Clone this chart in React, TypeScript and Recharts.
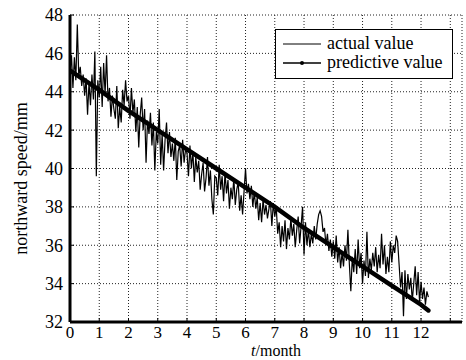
import { CartesianGrid, Legend, Line, LineChart, XAxis, YAxis } from 'recharts';

// one sample every 0.05 month, starting at t = 0
const SAMPLE_STEP = 0.05;

// northward speed readings (mm), one row per month
const actualValues: number[] = [
  45.0, 45.9, 44.2, 45.8, 44.6, 47.5, 44.8, 45.3, 44.3, 44.9, 43.8, 44.7, 42.8, 44.5, 43.3, 44.9, 43.6, 46.1, 39.6, 44.6,
  43.7, 45.3, 43.2, 45.5, 43.9, 45.9, 43.5, 44.2, 42.7, 43.8, 43.1, 42.6, 44.3, 42.1, 43.2, 42.4, 44.1, 43.3, 44.6, 43.5,
  43.8, 42.6, 44.2, 42.9, 43.6, 41.9, 43.2, 41.1, 42.8, 43.7, 42.0, 43.1, 40.3, 42.5, 41.8, 42.9, 41.2, 42.4, 39.9, 41.9,
  41.3, 43.1, 40.2, 41.8, 39.9, 41.5, 42.4, 40.8, 41.9, 40.6, 41.3, 40.4, 41.6, 39.4, 40.9, 41.2, 40.1, 41.5, 40.3, 41.0,
  40.8, 39.6, 41.2, 40.0, 40.9, 39.3, 40.6, 39.8, 40.4, 38.9, 39.7, 40.3, 38.8, 39.5, 40.6, 39.1, 39.9, 38.4, 37.6, 39.6,
  39.5, 38.6, 40.2, 38.9, 39.6, 38.3, 39.8, 38.7, 39.4, 37.9, 39.0, 38.4, 39.5, 38.1, 38.9, 39.3, 37.8, 38.6, 37.6, 38.8,
  40.0, 38.7, 39.2, 38.4, 39.1, 38.0, 38.8, 37.9, 38.5, 37.3, 38.2, 37.2, 38.4, 37.6, 38.1, 37.4, 37.9, 38.3, 37.0, 38.2,
  37.5, 38.0, 36.6, 37.2, 35.9, 37.0, 36.2, 37.3, 35.8, 36.9, 36.3, 37.4, 36.5, 37.1, 35.9, 36.8, 37.5, 36.1, 37.0, 38.0,
  35.5, 37.2, 36.0, 36.8, 35.9, 36.6, 36.1, 37.0, 36.3, 37.1, 37.6, 37.8, 37.5, 36.7, 36.9, 36.0, 36.6, 35.7, 36.3, 35.4,
  36.2, 35.3, 36.5, 35.1, 35.9, 34.8, 35.6, 34.9, 36.0, 35.2, 36.8, 35.0, 33.6, 35.4, 34.6, 35.8, 34.5, 36.3, 34.8, 35.6,
  34.0, 35.2, 34.4, 36.7, 34.3, 35.3, 34.7, 35.6, 34.9, 35.9, 34.6, 35.5, 34.8, 36.6, 35.0, 36.0, 34.5, 35.4, 34.6, 36.2,
  35.1, 36.0, 35.6, 36.5, 36.2, 35.0, 33.8, 34.6, 32.3, 34.7, 33.2, 34.5, 33.7, 34.3, 33.1, 34.0, 34.9, 33.4, 34.6, 33.0,
  34.1, 33.2, 33.8, 32.9, 33.6, 33.3,
];

const predictMonths = [0, 1, 2, 3, 4, 5, 6, 7, 8, 9, 10, 11, 12, 12.25];
const predictValues = [45.1, 44.1, 43.0, 42.0, 41.0, 40.0, 39.0, 38.0, 36.9, 35.9, 34.9, 33.9, 32.9, 32.6];

const xTicks = [0, 1, 2, 3, 4, 5, 6, 7, 8, 9, 10, 11, 12, 13];
const xTickLabels = ['0', '1', '2', '3', '4', '5', '6', '7', '8', '9', '10', '11', '12', ''];
const yTicks = [32, 34, 36, 38, 40, 42, 44, 46, 48];
const seriesNames = ['actual value', 'predictive value'];

const X_DOMAIN: [number, number] = [0, 13.4];
const Y_DOMAIN: [number, number] = [32, 48];
const FONT = '"Liberation Serif", "Times New Roman", serif';

const actualData = actualValues.map((v, i) => ({ t: i * SAMPLE_STEP, v }));
const predictData = predictMonths.map((t, i) => ({ t, v: predictValues[i] }));

function YLabel({ viewBox }: any) {
  const x = viewBox.x + 27;
  const y = viewBox.y + viewBox.height / 2 + 10;
  return (
    <text x={x} y={y} transform={`rotate(-90, ${x}, ${y})`} textAnchor="middle" fontFamily={FONT} fontSize={18} fill="#000">
      northward speed/mm
    </text>
  );
}

function XLabel({ viewBox }: any) {
  // keep the label just under the tick numbers, inside the picture
  const x = viewBox.x + viewBox.width / 2 + 10;
  const y = viewBox.y + 34.3;
  return (
    <text x={x} y={y} textAnchor="middle" fontFamily={FONT} fontSize={16} fill="#000">
      <tspan fontStyle="italic">t</tspan>
      <tspan>/month</tspan>
    </text>
  );
}

function LegendBox() {
  return (
    <div
      style={{
        boxSizing: 'border-box',
        width: 178,
        height: 50,
        border: '1px solid #000',
        background: '#fff',
        padding: '4px 0 0 7px',
        fontFamily: FONT,
        fontSize: 18,
        color: '#000',
        lineHeight: '19px',
      }}
    >
      {seriesNames.map((name, i) => (
        <div key={name} style={{ display: 'flex', alignItems: 'center', height: 19 }}>
          <svg width={38} height={10} style={{ display: 'block' }}>
            <line x1={0} y1={5} x2={38} y2={5} stroke="#000" strokeWidth={i === 0 ? 1 : 1.5} />
            {i === 1 ? <circle cx={19} cy={5} r={2} fill="#000" /> : null}
          </svg>
          <span style={{ marginLeft: 6, whiteSpace: 'nowrap' }}>{name}</span>
        </div>
      ))}
    </div>
  );
}

export default function App() {
  const yTickStyle = { fill: '#000', fontSize: 18, fontFamily: FONT };
  const xTickStyle = { fill: '#000', fontSize: 17, fontFamily: FONT };
  return (
    <div style={{ position: 'absolute', left: 0, top: 0, width: 466, height: 360, background: '#fff' }}>
      <LineChart width={466} height={360} margin={{ top: 15, right: 4, bottom: 0, left: 0 }}>
        <CartesianGrid stroke="#222" strokeDasharray="1 2" strokeWidth={1} />
        <XAxis
          dataKey="t"
          type="number"
          domain={X_DOMAIN}
          ticks={xTicks}
          tickFormatter={(v: number) => xTickLabels[xTicks.indexOf(v)] ?? ''}
          allowDataOverflow
          interval={0}
          height={38}
          tick={xTickStyle}
          tickSize={-4}
          tickMargin={8}
          tickLine={{ stroke: '#000' }}
          axisLine={{ stroke: '#000', strokeWidth: 3 }}
          label={{ content: (p: any) => <XLabel {...p} /> }}
        />
        <XAxis
          xAxisId="top"
          orientation="top"
          type="number"
          domain={X_DOMAIN}
          ticks={xTicks}
          allowDataOverflow
          height={0}
          tick={false}
          tickSize={-4}
          tickLine={{ stroke: '#000' }}
          axisLine={{ stroke: '#000', strokeWidth: 1 }}
        />
        <YAxis
          type="number"
          domain={Y_DOMAIN}
          ticks={yTicks}
          allowDataOverflow
          interval={0}
          width={70}
          tick={yTickStyle}
          tickSize={-4}
          tickMargin={11}
          tickLine={{ stroke: '#000' }}
          axisLine={{ stroke: '#000', strokeWidth: 3 }}
          label={{ content: (p: any) => <YLabel {...p} /> }}
        />
        <YAxis
          yAxisId="right"
          orientation="right"
          type="number"
          domain={Y_DOMAIN}
          ticks={yTicks}
          allowDataOverflow
          width={0}
          tick={false}
          tickSize={-4}
          tickLine={{ stroke: '#000' }}
          axisLine={{ stroke: '#000', strokeWidth: 1 }}
        />
        <Legend
          layout="horizontal"
          verticalAlign="middle"
          align="center"
          wrapperStyle={{ position: 'absolute', left: 275, top: 29, width: 178, height: 50 }}
          content={() => <LegendBox />}
        />
        <Line
          data={actualData}
          dataKey="v"
          name={seriesNames[0]}
          type="linear"
          stroke="#000"
          strokeWidth={1.2}
          dot={false}
          activeDot={false}
          isAnimationActive={false}
        />
        <Line
          data={predictData}
          dataKey="v"
          name={seriesNames[1]}
          type="linear"
          stroke="#000"
          strokeWidth={4.5}
          strokeLinecap="round"
          strokeLinejoin="round"
          dot={false}
          activeDot={false}
          isAnimationActive={false}
        />
      </LineChart>
    </div>
  );
}
